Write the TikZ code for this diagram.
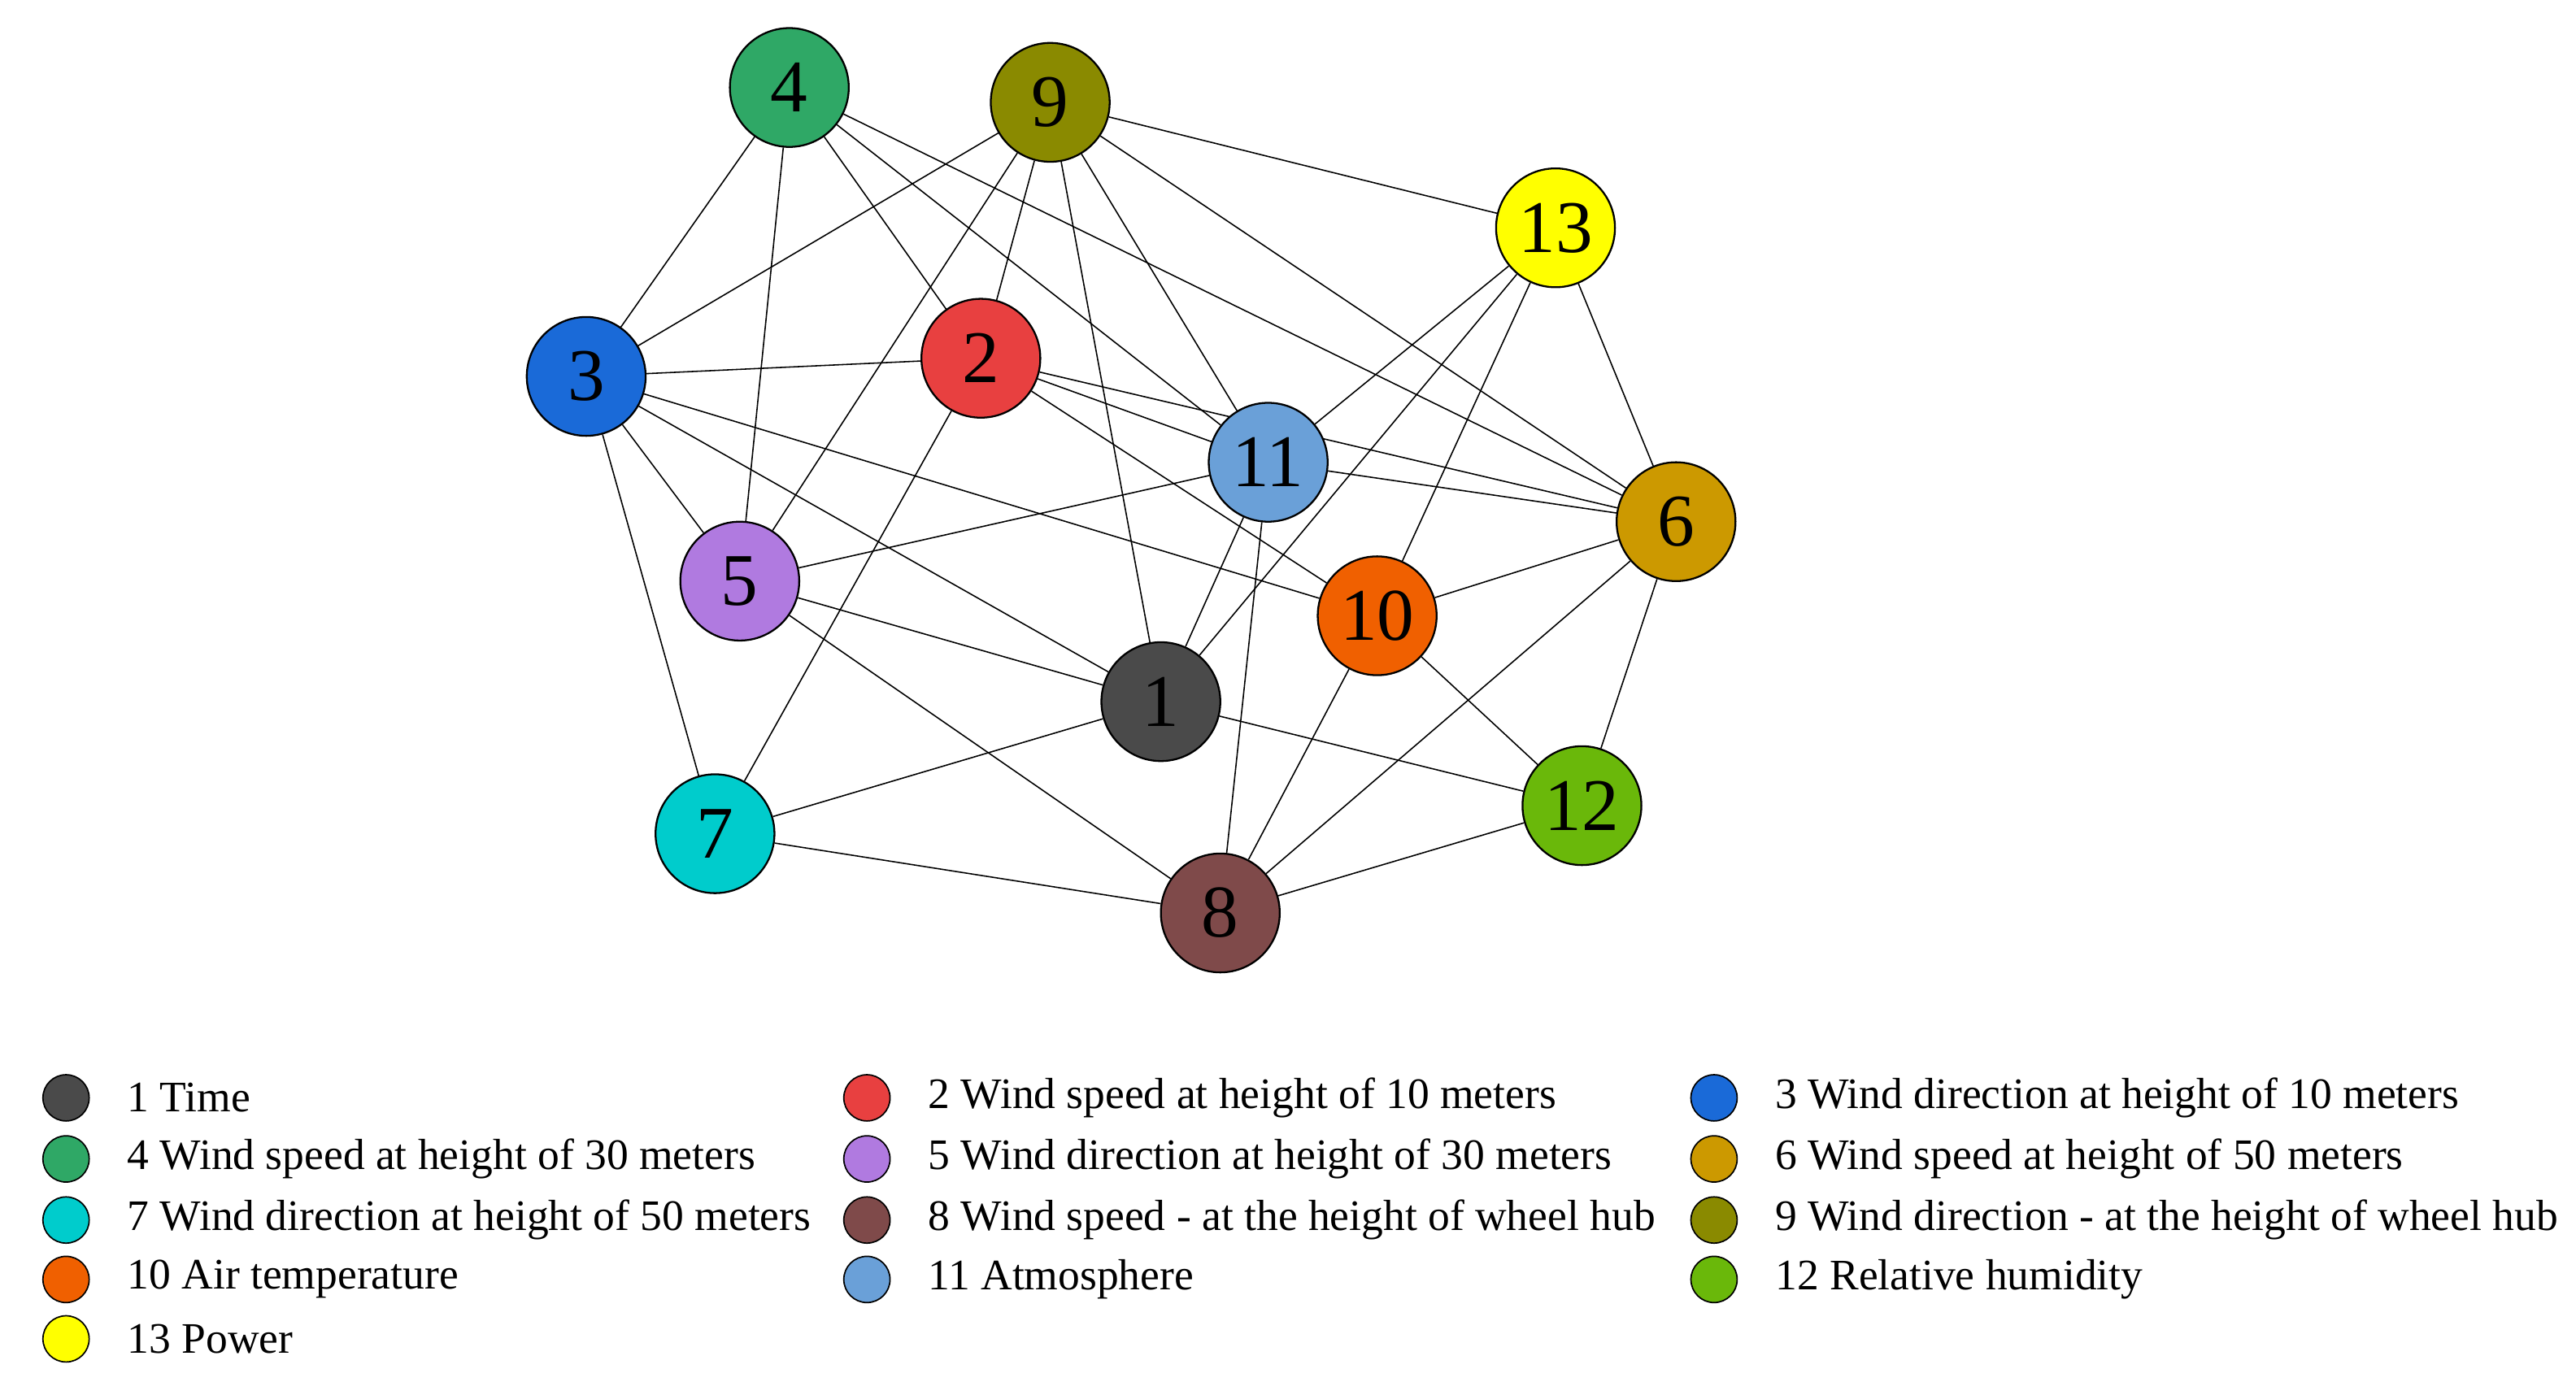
\documentclass[tikz,border=0pt]{standalone}
\usepackage{fontspec}
\usetikzlibrary{backgrounds}
\setmainfont{Liberation Serif}
\definecolor{c1}{HTML}{4A4A4A}\definecolor{c2}{HTML}{E84040}\definecolor{c3}{HTML}{1A6AD8}
\definecolor{c4}{HTML}{2FA866}\definecolor{c5}{HTML}{B07AE0}\definecolor{c6}{HTML}{CC9900}
\definecolor{c7}{HTML}{00CCCC}\definecolor{c8}{HTML}{7F4A4A}\definecolor{c9}{HTML}{8A8A00}
\definecolor{c10}{HTML}{F06000}\definecolor{c11}{HTML}{6AA0D8}\definecolor{c12}{HTML}{6AB80A}
\definecolor{c13}{HTML}{FFFF00}
\begin{document}
\begin{tikzpicture}[x=0.05cm,y=-0.05cm,
  vtx/.style={circle,draw=black,line width=1.6pt,minimum size=3.6cm,inner sep=0pt,font=\fontsize{64}{64}\selectfont},
  edge/.style={line width=1.1pt},
  leg/.style={circle,draw=black,line width=1.2pt,minimum size=1.4cm,inner sep=0pt},
  legtxt/.style={anchor=west,inner sep=0pt,font=\fontsize{37.5}{37.5}\selectfont}]
\useasboundingbox (0,0) rectangle (1560,837);
\foreach \n/\x/\y in {1/703/425,2/594/217,3/355/228,4/478/53,5/448/352,6/1015/316,7/433/505,8/739/553,9/636/62,10/834/373,11/768/280,12/958/488,13/942/138}
  \node[vtx,fill=c\n] (n\n) at (\x,\y) {\n};
\begin{scope}[on background layer]
\fill[white] (0,0) rectangle (1560,837);
\foreach \a/\b in {4/3,4/5,4/2,4/11,4/6,9/3,9/5,9/2,9/1,9/11,9/6,9/13,13/11,13/1,13/10,13/6,3/2,3/5,3/7,3/1,3/10,2/11,2/6,2/10,2/7,11/5,11/6,11/1,11/8,5/1,5/8,6/10,6/12,6/8,10/12,10/8,1/7,1/12,7/8,8/12}
  \draw[edge] (n\a) -- (n\b);
\end{scope}
\foreach \n/\x/\y/\t in {1/40/665/1 Time,2/525/665/2 Wind speed at height of 10 meters,3/1038/665/3 Wind direction at height of 10 meters,
4/40/702/4 Wind speed at height of 30 meters,5/525/702/5 Wind direction at height of 30 meters,6/1038/702/6 Wind speed at height of 50 meters,
7/40/739/7 Wind direction at height of 50 meters,8/525/739/8 Wind speed - at the height of wheel hub,9/1038/739/9 Wind direction - at the height of wheel hub,
10/40/775/10 Air temperature,11/525/775/11 Atmosphere,12/1038/775/12 Relative humidity,13/40/811/13 Power}{
  \node[leg,fill=c\n] (l\n) at (\x,\y) {};
  \node[legtxt] (t\n) at (\x+37,\y) {\t};}
\end{tikzpicture}
\end{document}
